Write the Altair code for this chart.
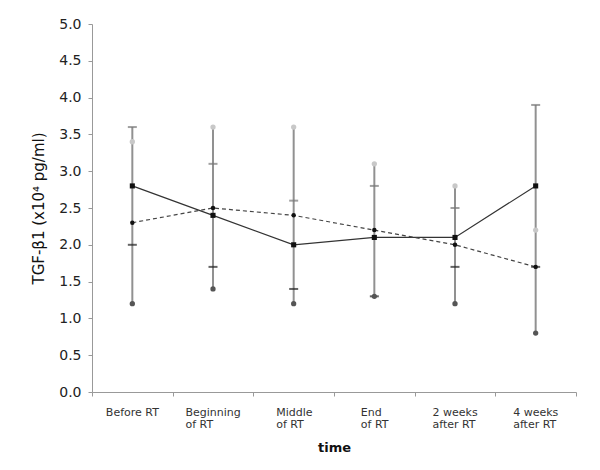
import altair as alt
import pandas as pd

categories = [
    "Before RT",
    "Beginning|of RT",
    "Middle|of RT",
    "End|of RT",
    "2 weeks|after RT",
    "4 weeks|after RT",
]
# half-width of each label block (left-aligned lines), for centring
label_shift = [-27, -28, -18, -14, -23, -23]

solid_mean = [2.8, 2.4, 2.0, 2.1, 2.1, 2.8]
solid_upper = [3.6, 3.1, 2.6, 2.8, 2.5, 3.9]
solid_lower = [2.0, 1.7, 1.4, 1.3, 1.7, 1.7]

dashed_mean = [2.3, 2.5, 2.4, 2.2, 2.0, 1.7]
dashed_upper = [3.4, 3.6, 3.6, 3.1, 2.8, 2.2]
dashed_lower = [1.2, 1.4, 1.2, 1.3, 1.2, 0.8]

y_ticks = [0.0, 0.5, 1.0, 1.5, 2.0, 2.5, 3.0, 3.5, 4.0, 4.5, 5.0]

df = pd.DataFrame({
    "time": categories,
    "solid_mean": solid_mean,
    "solid_upper": solid_upper,
    "solid_lower": solid_lower,
    "dashed_mean": dashed_mean,
    "dashed_upper": dashed_upper,
    "dashed_lower": dashed_lower,
})
df["lo"] = df[["solid_lower", "dashed_lower", "solid_mean", "dashed_mean"]].min(axis=1)
df["hi"] = df[["solid_upper", "dashed_upper", "solid_mean", "dashed_mean"]].max(axis=1)

FONT = "DejaVu Sans"

offset_cond = {
    "condition": [
        {"test": f"datum.value === '{c}'", "value": s}
        for c, s in zip(categories[1:], label_shift[1:])
    ],
    "value": label_shift[0],
}

x_axis = alt.Axis(
    title="time",
    titleY=55,
    titleBaseline="middle",
    titleFont=FONT,
    titleFontSize=13,
    titleFontWeight="bold",
    titleColor="#111",
    labelExpr="split(datum.label, '|')",
    labelAngle=0,
    labelAlign="left",
    labelOffset=offset_cond,
    labelFont=FONT,
    labelFontSize=11,
    labelColor="#333",
    labelPadding=10,
    labelLineHeight=12,
    tickBand="extent",
)
x_enc = alt.X(
    "time:N",
    sort=categories,
    scale=alt.Scale(type="band", paddingInner=0, paddingOuter=0),
    axis=x_axis,
)

y_scale = alt.Scale(domain=[0, 5], nice=False, zero=True)
y_axis = alt.Axis(
    title="TGF-β1 (x10⁴ pg/ml)",
    values=y_ticks,
    format=".1f",
    labelOverlap=False,
    labelFont=FONT,
    labelFontSize=14,
    labelColor="#222",
    labelPadding=7,
    titleFont=FONT,
    titleFontSize=15,
    titleFontWeight="normal",
    titleColor="#111",
    titlePadding=12,
)


def Y(field):
    return alt.Y(field, type="quantitative", scale=y_scale, axis=y_axis)


base = alt.Chart(df)

rule = base.mark_rule(color="#919191", strokeWidth=2).encode(
    x=x_enc, y=Y("lo"), y2="hi:Q"
)
solid_line = base.mark_line(color="#333", strokeWidth=1.2).encode(x=x_enc, y=Y("solid_mean"))
dashed_line = base.mark_line(color="#444", strokeWidth=1.2, strokeDash=[4, 3]).encode(
    x=x_enc, y=Y("dashed_mean")
)
tick_up = base.mark_tick(color="#777", thickness=2, size=9).encode(x=x_enc, y=Y("solid_upper"))
tick_lo = base.mark_tick(color="#222", thickness=2, size=9).encode(x=x_enc, y=Y("solid_lower"))
dot_up = base.mark_point(filled=True, shape="circle", color="#c8c8c8", size=28, opacity=1).encode(
    x=x_enc, y=Y("dashed_upper")
)
dot_lo = base.mark_point(filled=True, shape="circle", color="#555", size=28, opacity=1).encode(
    x=x_enc, y=Y("dashed_lower")
)
sq = base.mark_point(filled=True, shape="square", color="#111", size=26, opacity=1).encode(
    x=x_enc, y=Y("solid_mean")
)
circ = base.mark_point(filled=True, shape="circle", color="#111", size=20, opacity=1).encode(
    x=x_enc, y=Y("dashed_mean")
)

chart = (
    alt.layer(rule, solid_line, dashed_line, tick_up, tick_lo, dot_up, dot_lo, sq, circ)
    .properties(
        width=484,
        height=368,
        autosize=alt.AutoSizeParams(type="none"),
        padding={"left": 84, "top": 16, "right": 16, "bottom": 70},
        background="white",
    )
    .configure_view(stroke=None)
    .configure_axis(
        grid=False,
        domainColor="#999",
        domainWidth=1,
        tickColor="#999",
        tickSize=4,
    )
)

chart.save("out.html", embed_options={"renderer": "svg", "actions": False})
